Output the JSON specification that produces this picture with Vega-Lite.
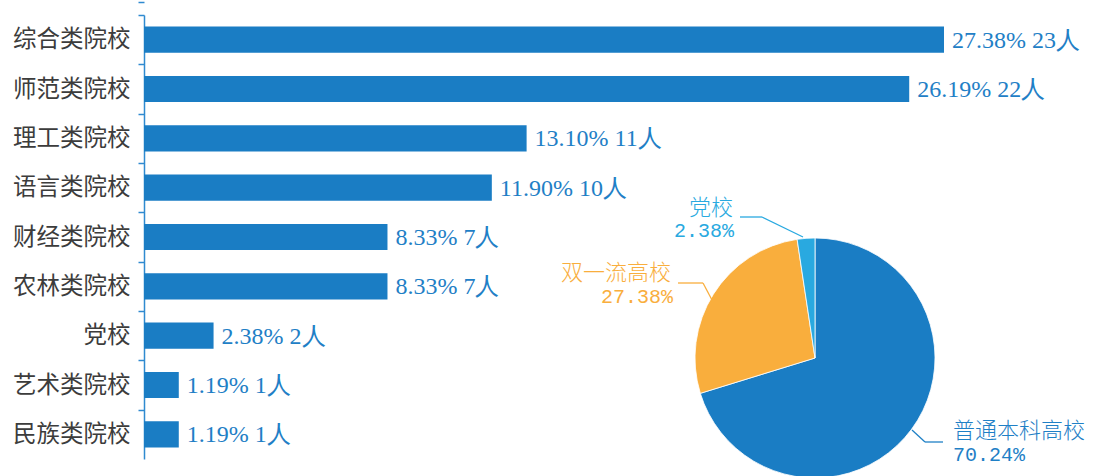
{
  "$schema": "https://vega.github.io/schema/vega-lite/v6.json",
  "autosize": "none",
  "width": 800,
  "height": 444,
  "padding": {"left": 144, "top": 15, "right": 154, "bottom": 17},
  "background": "white",
  "config": {"view": {"stroke": null}},
  "datasets": {
    "bars": [
      {"type": "综合类院校", "pct": 27.38, "n": 23},
      {"type": "师范类院校", "pct": 26.19, "n": 22},
      {"type": "理工类院校", "pct": 13.10, "n": 11},
      {"type": "语言类院校", "pct": 11.90, "n": 10},
      {"type": "财经类院校", "pct": 8.33, "n": 7},
      {"type": "农林类院校", "pct": 8.33, "n": 7},
      {"type": "党校", "pct": 2.38, "n": 2},
      {"type": "艺术类院校", "pct": 1.19, "n": 1},
      {"type": "民族类院校", "pct": 1.19, "n": 1}
    ],
    "pie": [
      {"kind": "普通本科高校", "share": 0.7024, "order": 1},
      {"kind": "双一流高校", "share": 0.2738, "order": 2},
      {"kind": "党校", "share": 0.0238, "order": 3}
    ],
    "one": [{"k": 1}]
  },
  "encoding": {
    "y": {
      "field": "type", "type": "nominal", "sort": null,
      "scale": {"paddingInner": 0.47, "paddingOuter": 0.235},
      "axis": {
        "title": null, "domainColor": "#2f8ad0", "domainWidth": 1.5,
        "ticks": true, "tickColor": "#2f8ad0", "tickWidth": 1.5, "tickSize": 6, "tickOffset": -24.67, "tickExtra": true,
        "labelOffset": 24.67,
        "labelFont": "Noto Sans CJK SC", "labelFontSize": 23.5, "labelColor": "#3c3c3c",
        "labelPadding": 8
      }
    }
  },
  "layer": [
    {
      "data": {"name": "bars"},
      "mark": {"type": "bar", "color": "#1a7dc4"},
      "encoding": {
        "x": {
          "field": "n", "type": "quantitative",
          "scale": {"domain": [0, 23], "nice": false, "zero": true},
          "axis": null
        }
      }
    },
    {
      "data": {"name": "bars"},
      "transform": [{"calculate": "format(datum.pct, '.2f') + '% ' + datum.n + '人'", "as": "lab"}],
      "mark": {"type": "text", "align": "left", "baseline": "middle", "dx": 8, "dy": 1, "font": "Liberation Serif", "fontSize": 24, "color": "#1f80c6"},
      "encoding": {
        "x": {"field": "n", "type": "quantitative"},
        "text": {"field": "lab"}
      }
    },
    {
      "data": {"name": "pie"},
      "mark": {"type": "arc", "radius": 120, "x": 671, "y": 343, "stroke": "white", "strokeWidth": 0.8},
      "encoding": {
        "y": null,
        "theta": {"field": "share", "type": "quantitative", "stack": true},
        "order": {"field": "order", "type": "quantitative"},
        "color": {
          "field": "kind", "type": "nominal",
          "scale": {"domain": ["普通本科高校", "双一流高校", "党校"], "range": ["#1a7dc4", "#f9ae3d", "#29a9e0"]},
          "legend": null
        }
      }
    },
    {
      "data": {"name": "pie"},
      "transform": [{"filter": "datum.kind == '党校'"}],
      "encoding": {"y": null},
      "layer": [
        {"mark": {"type": "text", "x": 589, "y": 193, "align": "right", "baseline": "middle", "font": "Noto Sans CJK SC", "fontSize": 22, "fontWeight": 300, "color": "#29a9e0"},
         "encoding": {"text": {"field": "kind"}}},
        {"mark": {"type": "text", "x": 590, "y": 216, "align": "right", "baseline": "middle", "font": "Liberation Mono", "fontSize": 20, "color": "#29a9e0"},
         "encoding": {"text": {"field": "share", "type": "quantitative", "format": ".2%"}}}
      ]
    },
    {
      "data": {"name": "pie"},
      "transform": [{"filter": "datum.kind == '双一流高校'"}],
      "encoding": {"y": null},
      "layer": [
        {"mark": {"type": "text", "x": 527, "y": 258, "align": "right", "baseline": "middle", "font": "Noto Sans CJK SC", "fontSize": 22, "fontWeight": 300, "color": "#f9ae3d"},
         "encoding": {"text": {"field": "kind"}}},
        {"mark": {"type": "text", "x": 529, "y": 282, "align": "right", "baseline": "middle", "font": "Liberation Mono", "fontSize": 20, "color": "#f9ae3d"},
         "encoding": {"text": {"field": "share", "type": "quantitative", "format": ".2%"}}}
      ]
    },
    {
      "data": {"name": "pie"},
      "transform": [{"filter": "datum.kind == '普通本科高校'"}],
      "encoding": {"y": null},
      "layer": [
        {"mark": {"type": "text", "x": 809, "y": 416, "align": "left", "baseline": "middle", "font": "Noto Sans CJK SC", "fontSize": 22, "fontWeight": 300, "color": "#1f80c6"},
         "encoding": {"text": {"field": "kind"}}},
        {"mark": {"type": "text", "x": 809, "y": 440, "align": "left", "baseline": "middle", "font": "Liberation Mono", "fontSize": 20, "color": "#1f80c6"},
         "encoding": {"text": {"field": "share", "type": "quantitative", "format": ".2%"}}}
      ]
    },
    {"data": {"name": "one"}, "mark": {"type": "rule", "color": "#29a9e0", "strokeWidth": 1.3}, "encoding": {"x": {"value": 596}, "y": {"value": 202}, "x2": {"value": 618}, "y2": {"value": 202}}},
    {"data": {"name": "one"}, "mark": {"type": "rule", "color": "#29a9e0", "strokeWidth": 1.3}, "encoding": {"x": {"value": 618}, "y": {"value": 202}, "x2": {"value": 659}, "y2": {"value": 222}}},
    {"data": {"name": "one"}, "mark": {"type": "rule", "color": "#f9ae3d", "strokeWidth": 1.3}, "encoding": {"x": {"value": 534}, "y": {"value": 268}, "x2": {"value": 559}, "y2": {"value": 268}}},
    {"data": {"name": "one"}, "mark": {"type": "rule", "color": "#f9ae3d", "strokeWidth": 1.3}, "encoding": {"x": {"value": 559}, "y": {"value": 268}, "x2": {"value": 568}, "y2": {"value": 285}}},
    {"data": {"name": "one"}, "mark": {"type": "rule", "color": "#1f80c6", "strokeWidth": 1.3}, "encoding": {"x": {"value": 768}, "y": {"value": 415}, "x2": {"value": 781}, "y2": {"value": 427}}},
    {"data": {"name": "one"}, "mark": {"type": "rule", "color": "#1f80c6", "strokeWidth": 1.3}, "encoding": {"x": {"value": 781}, "y": {"value": 427}, "x2": {"value": 799}, "y2": {"value": 427}}}
  ],
  "resolve": {"scale": {"color": "independent"}}
}
